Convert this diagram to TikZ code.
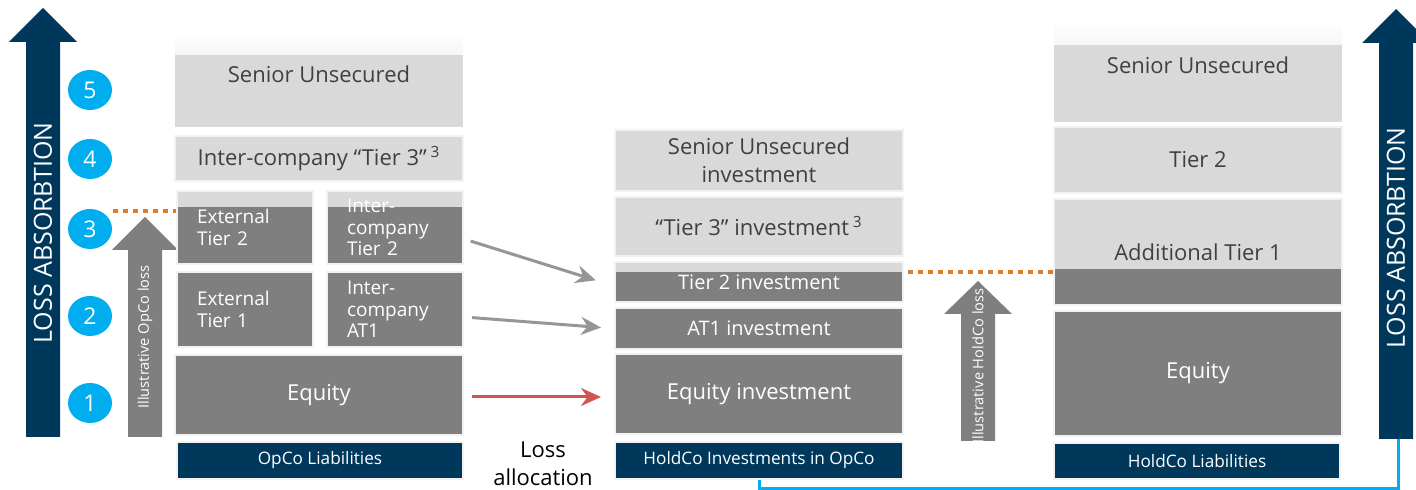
\documentclass[tikz,border=0pt]{standalone}
\usepackage{fontspec}
\setmainfont{Open Sans}
\usetikzlibrary{arrows.meta,shapes.geometric}
\definecolor{navy}{RGB}{0,56,92}
\definecolor{lightg}{RGB}{217,217,217}
\definecolor{darkg}{RGB}{127,127,127}
\definecolor{edgeg}{RGB}{242,242,242}
\definecolor{txtg}{RGB}{64,64,64}
\definecolor{cyanc}{RGB}{0,174,239}
\definecolor{orangec}{RGB}{222,125,40}
\definecolor{arrg}{RGB}{150,150,150}
\definecolor{redc}{RGB}{210,85,85}
\tikzset{
  blk/.style={draw=edgeg,line width=1pt,inner sep=0pt,align=center},
  lightblk/.style={blk,fill=lightg,text=txtg},
  darkblk/.style={blk,fill=darkg,text=white},
  navyblk/.style={blk,fill=navy,text=white,font=\fontsize{8.6}{10}\selectfont},
  splitblk/.style={darkblk,align=left,text width=48pt,inner xsep=10pt,font=\fontsize{9.5}{10.8}\selectfont},
  topstrip/.style={path picture={\fill[lightg] (path picture bounding box.north west) rectangle ([yshift=-#1]path picture bounding box.north east);}},
  botstrip/.style={path picture={\fill[darkg] (path picture bounding box.south west) rectangle ([yshift=#1]path picture bounding box.south east);}},
  fadetop/.style={path picture={\shade[top color=white,bottom color=lightg] (path picture bounding box.north west) rectangle ([yshift=-#1]path picture bounding box.north east);}},
  numdot/.style={ellipse,fill=cyanc,text=white,minimum width=22pt,minimum height=20pt,inner sep=0pt,font=\fontsize{11.5}{13}\selectfont},
  losstxt/.style={rotate=90,text=white,font=\fontsize{12.5}{14}\selectfont},
  illtxt/.style={rotate=90,text=white,font=\fontsize{7.3}{9}\selectfont},
  levelline/.style={orangec,line width=2.3pt,dash pattern=on 2.5pt off 2.5pt},
  allocarr/.style={arrg,line width=1.5pt,-{Stealth[length=10pt,width=9pt]}},
}
\begin{document}
\begin{tikzpicture}[x=0.5pt,y=-0.5pt,font=\fontsize{11}{13}\selectfont]
\clip (0,0) rectangle (1416,490);
% loss absorption arrows
\fill[navy] (26,437) -- (26,42) -- (9,42) -- (43,8) -- (77,42) -- (60,42) -- (60,437) -- cycle;
\fill[navy] (1379,439) -- (1379,43) -- (1362,43) -- (1396,9) -- (1430,43) -- (1413,43) -- (1413,439) -- cycle;
\node[losstxt] (absL) at (43,233) {LOSS ABSORBTION};
\node[losstxt] (absR) at (1396,238) {LOSS ABSORBTION};
\coordinate (absRbot) at (1398,439);

% ranking
\node[numdot] (n5) at (90,90) {5};
\node[numdot] (n4) at (90,159) {4};
\node[numdot] (n3) at (90,229) {3};
\node[numdot] (n2) at (90,316) {2};
\node[numdot] (n1) at (90,403) {1};

% illustrative losses
\fill[darkg] (128,437) -- (128,250) -- (112,250) -- (145,217) -- (178,250) -- (162,250) -- (162,437) -- cycle;
\node[illtxt] (opLoss) at (145,337) {Illustrative OpCo loss};
\fill[darkg] (961,441) -- (961,314) -- (944,314) -- (978,281) -- (1012,314) -- (995,314) -- (995,441) -- cycle;
\node[illtxt] (hoLoss) at (978,366) {Illustrative HoldCo loss};

% OpCo liabilities
\node[fill=lightg,fadetop=11pt,inner sep=0pt,minimum width=144pt,minimum height=47pt] (opSen) at (319,80) {};
\node[text=txtg] (opSenTxt) at (319,74) {Senior Unsecured};
\node[lightblk,minimum width=144pt,minimum height=22.5pt] (opT3) at (319,158.5) {Inter-company “Tier 3”\,\textsuperscript{3}};
\node[splitblk,topstrip=8pt,minimum height=36.5pt] (opExT2) at (245,227.5) {External\\Tier 2};
\node[splitblk,topstrip=8pt,minimum height=36.5pt] (opIcT2) at (395,227.5) {Inter-\\company\\Tier 2};
\node[splitblk,minimum height=37.5pt] (opExT1) at (245,309.5) {External\\Tier 1};
\node[splitblk,minimum height=37.5pt] (opIcAT1) at (395,309.5) {Inter-\\company\\AT1};
\node[darkblk,minimum width=144pt,minimum height=40pt] (opEq) at (319,395) {Equity};
\node[navyblk,minimum width=143pt,minimum height=18.5pt] (opLab) at (320,460.5) {OpCo Liabilities};
\coordinate (lvlL) at (113,211);
\draw[levelline] (lvlL) -- (lvlL -| opExT2.west);

% HoldCo investments in OpCo
\node[lightblk,minimum width=144pt,minimum height=30.5pt,font=\fontsize{11}{14}\selectfont] (hiSen) at (759,160.5) {Senior Unsecured\\investment};
\node[lightblk,minimum width=144pt,minimum height=29.5pt] (hiT3) at (759,226.5) {“Tier 3” investment\,\textsuperscript{3}};
\node[darkblk,topstrip=5pt,minimum width=144pt,minimum height=20pt,font=\fontsize{10}{12}\selectfont] (hiT2) at (759,282) {Tier 2 investment};
\node[darkblk,minimum width=144pt,minimum height=20.5pt,font=\fontsize{10}{12}\selectfont] (hiAT1) at (759,328.5) {AT1 investment};
\node[darkblk,minimum width=144pt,minimum height=40pt] (hiEq) at (759,394) {Equity investment};
\node[navyblk,minimum width=144pt,minimum height=18.5pt] (hiLab) at (759,460.5) {HoldCo Investments in OpCo};

% HoldCo liabilities
\node[fill=lightg,fadetop=12pt,inner sep=0pt,minimum width=144pt,minimum height=50.5pt] (hlSen) at (1198,71.5) {};
\node[text=txtg] (hlSenTxt) at (1198,65) {Senior Unsecured};
\node[lightblk,minimum width=144pt,minimum height=33pt] (hlT2) at (1198,160) {Tier 2};
\node[lightblk,botstrip=18pt,minimum width=144pt,minimum height=53pt] (hlAT1) at (1198,252) {Additional Tier 1};
\node[darkblk,minimum width=144pt,minimum height=62.5pt] (hlEq) at (1198,373.5) {Equity};
\node[navyblk,minimum width=143pt,minimum height=18pt] (hlLab) at (1197,461) {HoldCo Liabilities};
\coordinate (lvlR) at (908,272);
\draw[levelline] (lvlR) -- (lvlR -| hlAT1.west);

% loss allocation
\draw[allocarr,shorten <=3.5pt,shorten >=9.5pt] ([yshift=-5.75pt]opIcT2.east) -- ([yshift=-2pt]hiT2.west);
\draw[allocarr,shorten <=4pt,shorten >=6.5pt] ([yshift=-3.75pt]opIcAT1.east) -- (hiAT1.west);
\draw[allocarr,redc,shorten <=4pt,shorten >=6.5pt] ([yshift=-1pt]opEq.east) -- ([yshift=-1pt]opEq.east -| hiEq.west);
\node[align=center,font=\fontsize{11}{14}\selectfont] (lossAlloc) at (543,464) {Loss\\allocation};
\draw[cyanc,line width=1.5pt] (hiLab.south) -- ++(0,9) -| (absRbot);
\end{tikzpicture}
\end{document}
